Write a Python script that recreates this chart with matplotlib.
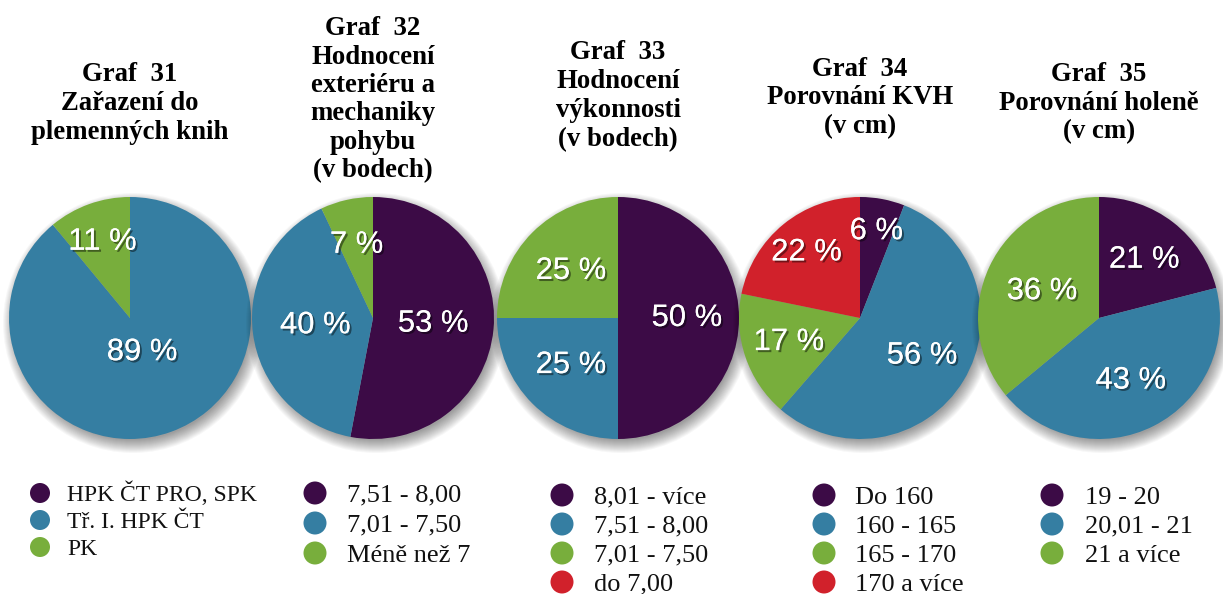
import matplotlib
matplotlib.use('Agg')
import matplotlib.pyplot as plt
import matplotlib.patheffects as pe
from matplotlib.patches import Circle
import numpy as np

W, H = 1223, 594

# ---------------- data ----------------
titles = [
    ["Graf  31", "Zařazení do", "plemenných knih"],
    ["Graf  32", "Hodnocení", "exteriéru a", "mechaniky", "pohybu", "(v bodech)"],
    ["Graf  33", "Hodnocení", "výkonnosti", "(v bodech)"],
    ["Graf  34", "Porovnání KVH", "(v cm)"],
    ["Graf  35", "Porovnání holeně", "(v cm)"],
]
categories_31 = ["HPK ČT PRO, SPK", "Tř. I. HPK ČT", "PK"]
categories_32 = ["7,51 - 8,00", "7,01 - 7,50", "Méně než 7"]
categories_33 = ["8,01 - více", "7,51 - 8,00", "7,01 - 7,50", "do 7,00"]
categories_34 = ["Do 160", "160 - 165", "165 - 170", "170 a více"]
categories_35 = ["19 - 20", "20,01 - 21", "21 a více"]

values_31 = [0, 89, 11]
values_32 = [53, 40, 7]
values_33 = [50, 25, 25, 0]
values_34 = [6, 56, 17, 22]
values_35 = [21, 43, 36]

categories = [categories_31, categories_32, categories_33, categories_34, categories_35]
values = [values_31, values_32, values_33, values_34, values_35]

palette = ['#3c0b46', '#357ea2', '#78ae3c', '#d1212b']

# ---------------- layout / style ----------------
centers_x = [130, 373, 618, 860, 1099]
center_y = 318
R = 121
label_dist = [[0, 0.30, 0.67], [0.50, 0.48, 0.62], [0.57, 0.55, 0.55, 0],
              [0.73, 0.60, 0.62, 0.70], [0.61, 0.58, 0.52]]
title_base = [81, 35, 59, 76, 81]
title_pitch = [29, 28.5, 29, 28.5, 28.5]
title_fs = 19.3

leg_marker_x = [40, 315, 562, 824, 1052]
leg_text_x = [67, 347, 594, 855, 1085]
leg_y0 = [493, 493, 495, 495, 495]
leg_pitch = [27, 30, 29, 29, 29]
leg_fs = [17, 19, 19, 19, 19]
leg_marker_d = [20, 23, 23, 23, 23]

serif = ['Liberation Serif', 'DejaVu Serif']
sans = ['Liberation Sans', 'DejaVu Sans']


def Y(y):
    return H - y


fig = plt.figure(figsize=(W / 100, H / 100), dpi=100)
ax = fig.add_axes([0, 0, 1, 1])

for i, (vals, cats) in enumerate(zip(values, categories)):
    cx, cy = centers_x[i], Y(center_y)
    # soft drop shadow
    for k in range(14):
        ax.add_patch(Circle((cx + 3, cy - 5), R - 4 + k, facecolor='black',
                            edgecolor='none', alpha=0.03, zorder=1 + i * 3))
    wedges, _ = ax.pie(vals, colors=palette[:len(vals)], startangle=90,
                       counterclock=False, radius=R, center=(cx, cy),
                       frame=True, wedgeprops=dict(linewidth=0, edgecolor='none'))
    for w in wedges:
        w.set_zorder(2 + i * 3)
    for w, v, d in zip(wedges, vals, label_dist[i]):
        if v == 0:
            continue
        th = np.deg2rad((w.theta1 + w.theta2) / 2)
        ax.text(cx + d * R * np.cos(th), cy + d * R * np.sin(th), f"{v} %",
                color='white', fontsize=22.3, family=sans, ha='center', va='center',
                zorder=3 + i * 3,
                path_effects=[pe.withSimplePatchShadow(offset=(1.5, -1.5),
                                                       shadow_rgbFace='black', alpha=0.45),
                              pe.Normal()])
    # title
    for j, line in enumerate(titles[i]):
        ax.text(cx, Y(title_base[i] + j * title_pitch[i]), line, fontsize=title_fs,
                family=serif, fontweight='bold', ha='center', va='baseline', color='black')
    # legend
    em = leg_fs[i] * 100 / 72
    for j, cat in enumerate(cats):
        my = leg_y0[i] + j * leg_pitch[i]
        ax.scatter([leg_marker_x[i]], [Y(my)], s=(leg_marker_d[i] * 0.72) ** 2,
                   color=palette[j], edgecolors='none', zorder=20)
        ax.text(leg_text_x[i], Y(my + 0.331 * em), cat, fontsize=leg_fs[i],
                family=serif, ha='left', va='baseline', color='#111111')

ax.set_xlim(0, W)
ax.set_ylim(0, H)
ax.set_aspect('auto')
ax.axis('off')

fig.savefig('out.png', dpi=100, facecolor='white')
